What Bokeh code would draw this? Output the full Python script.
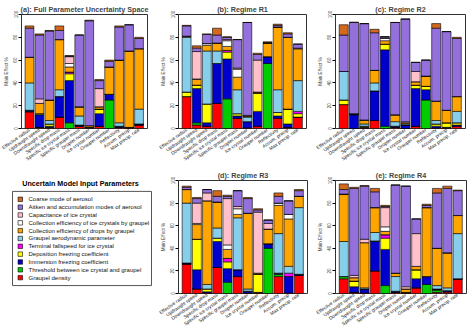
import numpy as np
from bokeh.plotting import figure
from bokeh.models import ColumnDataSource, Range1d, FixedTicker
from bokeh.layouts import row, column
from bokeh.core.properties import value
from bokeh.embed import file_html
from bokeh.resources import INLINE

FONT = "Liberation Sans"

categories = ["Effective radius", "Updraught speed", "Downdraught speed", "Specific drop mass",
              "Specific ice crystal mass", "Specific graupel mass", "Droplet number",
              "Ice crystal number", "Graupel number", "Reflectivity", "Accum. precip",
              "Max precip. rate"]

# stacking order, bottom to top
params = ["Graupel density", "Threshold between ice crystal and graupel",
          "Immersion freezing coefficient", "Deposition freezing coefficient",
          "Terminal fallspeed for ice crystal", "Graupel aerodynamic parameter",
          "Collection efficiency of drops by graupel",
          "Collection efficiency of ice crystals by graupel",
          "Capacitance of ice crystal", "Aitken and accumulation modes of aerosol",
          "Coarse mode of aerosol"]
colors = ["#FF0000", "#00CD00", "#0000CD", "#FFFF00", "#FF00FF", "#87CEEB",
          "#FFA500", "#FFFFFF", "#FFC0CB", "#9370DB", "#D2691E"]

# one row per category, values in the params order above (Main Effect %)
full_space = [
    [14.5, 0.5, 1, 0, 0, 24, 22.5, 0, 0, 25.5, 2],
    [1, 0, 11, 1, 0, 0, 9, 0, 4, 56, 1],
    [0.5, 0.5, 1, 2, 0, 3, 18, 0, 0, 60.5, 0.5],
    [10, 0, 18, 0, 0, 6, 44, 0, 0, 8, 4],
    [0, 5, 37, 6, 1.5, 0, 4.5, 3, 6, 0.5, 0.5],
    [2, 0, 1, 0, 0, 8, 8, 0, 0, 63, 0],
    [0.5, 0, 0.5, 0, 0, 0, 1.5, 0, 0, 92, 0.5],
    [2, 0, 11, 4, 0, 0, 2, 0, 16, 7, 1],
    [0, 25, 5, 0, 0, 0, 24, 0, 0, 5, 1],
    [1, 0, 1, 0, 0, 3, 55, 0, 0, 29, 1],
    [0.5, 0, 0.5, 0, 0, 0, 67, 0, 0, 23, 0],
    [3, 0, 1, 0, 0, 13, 53, 0, 0, 9, 1],
]
regime_r1 = [
    [28, 0, 0, 4, 0, 48, 1, 0, 0, 9, 0.5],
    [3, 2, 30, 3, 0, 0, 5, 0.5, 24, 3, 2],
    [2, 0, 3, 16.5, 0, 46.5, 5, 1.5, 0, 8, 0.5],
    [22, 0, 35, 0, 0, 11, 7, 0, 0, 7, 6],
    [0, 26, 35, 6, 1.5, 0, 3.5, 5, 1, 2, 0.5],
    [9, 0, 2, 2, 0, 21, 11, 7, 1, 25, 0],
    [0.5, 0, 5.5, 0, 0, 4, 1, 0, 0.5, 81.5, 0],
    [2, 0, 13, 16, 0, 0, 1, 0, 28, 5, 1],
    [0, 57, 6, 0, 0, 0, 12, 0, 0, 0.5, 0.5],
    [9, 0, 2, 3, 0, 20, 55, 0, 0, 1.5, 1],
    [1, 0, 3, 13, 0, 0, 63, 0, 0, 3, 1],
    [10, 0, 0, 3, 2, 27, 28, 0, 0.5, 3.5, 0],
]
regime_r2 = [
    [21, 0, 0, 4, 0, 25, 0, 0, 0, 32, 9],
    [0, 0, 12, 0.5, 0, 0, 0.5, 0, 0, 80, 0.3],
    [0.5, 0, 0.5, 1, 0, 2, 3, 0, 0.5, 84.5, 0],
    [7, 0, 26, 0, 0, 7, 11, 0, 0, 33, 3],
    [0, 2, 67, 5, 0, 0, 3, 2, 0.5, 1, 0],
    [1, 0, 1, 0, 0, 4, 6, 0, 0, 81, 0],
    [0, 0, 3, 0, 0, 1, 1, 0, 1, 90, 0],
    [2, 0, 33, 3, 0, 0, 3, 0, 9, 8, 0],
    [0, 25, 9, 3, 0, 0, 9, 0, 0, 14, 0],
    [0.5, 0, 1.5, 2, 0, 3, 17, 0, 0, 64, 4],
    [0.5, 0, 0.5, 4, 0, 0, 11, 0, 0, 69, 0],
    [2, 0, 1, 2, 0, 10, 13, 0, 0, 51, 1],
]
regime_r3 = [
    [26, 0, 1, 0, 0, 53, 12, 0, 0, 2, 1],
    [4, 0, 17, 27, 0, 0, 13, 1, 18, 4, 1],
    [0.5, 0, 1, 2.5, 0, 4, 74, 0, 7, 3, 0],
    [23, 0, 23, 3, 0, 9, 23, 0, 0, 5, 5],
    [0, 10, 12, 6, 3, 0, 8, 4, 41, 2, 1],
    [15, 0, 6, 0, 0, 46, 3, 5, 2, 14, 0],
    [0.5, 0, 1.5, 0, 0, 2, 67, 0, 0, 13, 1],
    [0.5, 0, 0.5, 16, 0, 0, 1, 0, 54, 2, 1],
    [0, 40, 4, 0, 0, 0, 13, 0, 5, 3, 0],
    [15, 2, 1, 0, 0, 35, 25, 2, 0, 6, 3],
    [0.5, 0, 14.5, 0, 3, 6, 42, 4, 0, 12, 0],
    [16, 0, 1, 0, 0, 59, 10, 0, 0, 5, 1],
]
regime_r4 = [
    [13, 2, 0, 0, 0, 31, 42, 0, 0, 4, 5],
    [1, 0, 5, 5, 0, 0, 3, 0, 2, 77, 1],
    [0.5, 0, 3, 0.5, 0, 1, 40, 0, 3, 47, 0.5],
    [20, 0, 26, 0.5, 0, 7.5, 22, 0, 0, 14, 3],
    [0, 7, 32, 10, 3, 0, 3, 4, 17, 1, 1],
    [1, 0, 1, 0, 0, 13, 3, 0, 0, 78, 0],
    [0.5, 0, 0.5, 0, 0, 0, 3, 0, 2, 89, 0],
    [5, 0, 8, 8, 0, 0, 3, 0, 29, 13, 0],
    [0, 8, 7, 0, 0, 0, 61, 0, 0, 2, 1],
    [1, 2, 1, 0, 0, 3, 33, 0, 0, 49, 4],
    [1.5, 0, 1, 0, 0, 2.5, 31, 0, 0, 57, 2],
    [13, 0, 0, 0, 0, 40, 16, 0, 0, 22, 0.5],
]
yticks = [0, 20, 40, 60, 80, 100]

TOP_H, BOT_H = 167, 164
BOT_BT, BOT_BB = 13, 37


def make_panel(title, rows, bl, br, height, bt, bb):
    arr = np.array(rows, dtype=float).T
    keys = [f"p{i}" for i in range(len(params))]
    xs = list(range(1, len(categories) + 1))
    data = {"x": xs}
    for k, a in zip(keys, arr):
        data[k] = list(a)
    src = ColumnDataSource(data)
    p = figure(width=157, height=height, x_range=Range1d(0.2, 12.85), y_range=Range1d(0, 100),
               output_backend="svg", toolbar_location=None,
               min_border_left=bl, min_border_right=br, min_border_top=bt, min_border_bottom=bb)
    p.vbar_stack(keys, x="x", width=0.88, source=src, fill_color=colors,
                 line_color="black", line_width=0.6)
    p.title.text = title
    p.title.align = "center"
    p.title.text_font = FONT
    p.title.text_font_size = "7.2px"
    p.title.text_font_style = "bold"
    p.title.standoff = 1
    p.title.offset = 0
    p.xgrid.visible = False
    p.ygrid.visible = False
    p.outline_line_color = "#333333"
    p.outline_line_width = 1
    ya = p.yaxis[0]
    ya.ticker = FixedTicker(ticks=yticks)
    ya.major_label_orientation = "vertical"
    ya.major_label_text_font = FONT
    ya.major_label_text_font_size = "4.6px"
    ya.major_tick_out = 3
    ya.major_tick_in = 0
    ya.minor_tick_out = 0
    ya.minor_tick_in = 0
    ya.major_label_standoff = 1
    ya.axis_line_color = None
    ya.axis_label = "Main Effect %"
    ya.axis_label_text_font = FONT
    ya.axis_label_text_font_size = "4.6px"
    ya.axis_label_text_font_style = "normal"
    ya.axis_label_standoff = 2
    xa = p.xaxis[0]
    xa.ticker = FixedTicker(ticks=xs)
    xa.major_label_overrides = {x: c for x, c in zip(xs, categories)}
    xa.major_label_orientation = np.deg2rad(35)
    xa.major_label_text_font = FONT
    xa.major_label_text_font_size = "4.8px"
    xa.major_label_text_color = "#222222"
    xa.major_tick_out = 0
    xa.major_tick_in = 0
    xa.minor_tick_out = 0
    xa.minor_tick_in = 0
    xa.axis_line_color = None
    xa.major_label_standoff = 1
    return p


pa = make_panel("(a): Full Parameter Uncertainty Space", full_space, 17, 10, TOP_H, 14, 39)
pb = make_panel("(b): Regime R1", regime_r1, 19, 8, TOP_H, 14, 39)
pc = make_panel("(c): Regime R2", regime_r2, 20, 6, TOP_H, 14, 39)
pd = make_panel("(d): Regime R3", regime_r3, 19, 7, BOT_H, BOT_BT, BOT_BB)
pe = make_panel("(e): Regime R4", regime_r4, 20, 5, BOT_H, BOT_BT, BOT_BB)

# legend panel: glyphs placed in page-pixel coordinates (y grows downward)
frame_top = TOP_H + BOT_BT
frame_bot = TOP_H + BOT_H - BOT_BB
leg = figure(title=None, width=157, height=BOT_H, x_range=Range1d(0, 157),
             y_range=Range1d(frame_bot, frame_top),
             output_backend="svg", toolbar_location=None, min_border_left=0,
             min_border_right=0, min_border_top=BOT_BT, min_border_bottom=BOT_BB,
             x_axis_location=None, y_axis_location=None)
leg.xgrid.visible = False
leg.ygrid.visible = False
leg.outline_line_color = None
n = len(params)
order = list(reversed(range(n)))
step = 7.9
item_y = [199 + k * step for k in range(n)]
leg.quad(left=12, right=151, top=191, bottom=286,
         fill_color="white", line_color="#555555", line_width=1)
leg.rect(x=19.8, y=item_y, width=4.5, height=4.5, fill_color=[colors[i] for i in order],
         line_color="black", line_width=0.6)
leg.text(x=28, y=item_y, text=[params[i] for i in order], text_font=value(FONT),
         text_font_size="6px", text_baseline="middle", text_align="left", text_color="#111111")
leg.text(x=[80], y=[183], text=["Uncertain Model Input Parameters"],
         text_font=value(FONT), text_font_size="7.2px", text_font_style="bold",
         text_baseline="middle", text_align="center")

layout = column(row(pa, pb, pc), row(leg, pd, pe))
open("out.html", "w").write(file_html(layout, INLINE, "Main effects"))
